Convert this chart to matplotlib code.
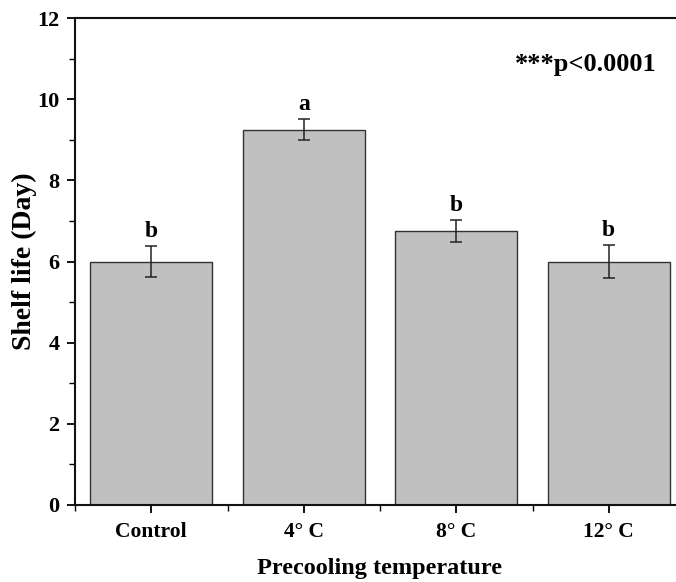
import matplotlib
matplotlib.use("Agg")
import matplotlib.pyplot as plt
from matplotlib.ticker import MultipleLocator, FixedLocator

categories = ["Control", "4° C", "8° C", "12° C"]
values = [6.0, 9.25, 6.75, 6.0]
errors = [0.37, 0.25, 0.28, 0.41]
letters = ["b", "a", "b", "b"]
y_ticks = [0, 2, 4, 6, 8, 10, 12]

plt.rcParams['font.family'] = ['Liberation Serif', 'DejaVu Serif']
plt.rcParams['font.weight'] = 'bold'

W, H = 676, 582
fig = plt.figure(figsize=(W / 100, H / 100), dpi=100)
left, right, top, bottom = 75, 685, 18, 505
ax = fig.add_axes([left / W, (H - bottom) / H, (right - left) / W, (bottom - top) / H])

x = list(range(len(categories)))
ax.bar(x, values, width=0.8, color="#c0c0c0", edgecolor="#333333", linewidth=1.0, zorder=2)
ax.errorbar(x, values, yerr=errors, fmt="none", ecolor="#222222", elinewidth=1.1,
            capsize=4.3, capthick=1.1, zorder=3)
for xi, v, e, l in zip(x, values, errors, letters):
    ax.text(xi, v + e + 0.1, l, ha="center", va="bottom", fontsize=17, fontweight="bold")

ax.text(0.953, 0.905, "***p<0.0001", transform=ax.transAxes, ha="right", va="center",
        fontsize=19, fontweight="bold")

ax.set_xlim(-0.5, 3.5)
ax.set_ylim(0, 12)
ax.set_xticks(x)
ax.set_xticklabels(categories, fontsize=15.5, fontweight="bold")
ax.xaxis.set_minor_locator(FixedLocator([-0.5, 0.5, 1.5, 2.5]))
ax.set_yticks(y_ticks)
ax.set_yticklabels([str(t) for t in y_ticks], fontsize=16, fontweight="bold")
ax.yaxis.set_minor_locator(MultipleLocator(1))

ax.tick_params(axis="both", which="major", direction="out", length=6, width=1.3, pad=5)
ax.tick_params(axis="both", which="minor", direction="out", length=4, width=1.0)
ax.tick_params(axis="x", which="major", pad=6)
for s in ax.spines.values():
    s.set_linewidth(1.5)
    s.set_color("#111111")

ax.set_ylabel("Shelf life (Day)", fontsize=20, fontweight="bold", labelpad=0)
ax.set_xlabel("Precooling temperature", fontsize=17.5, fontweight="bold", labelpad=12)

fig.savefig("out.png", dpi=100)
